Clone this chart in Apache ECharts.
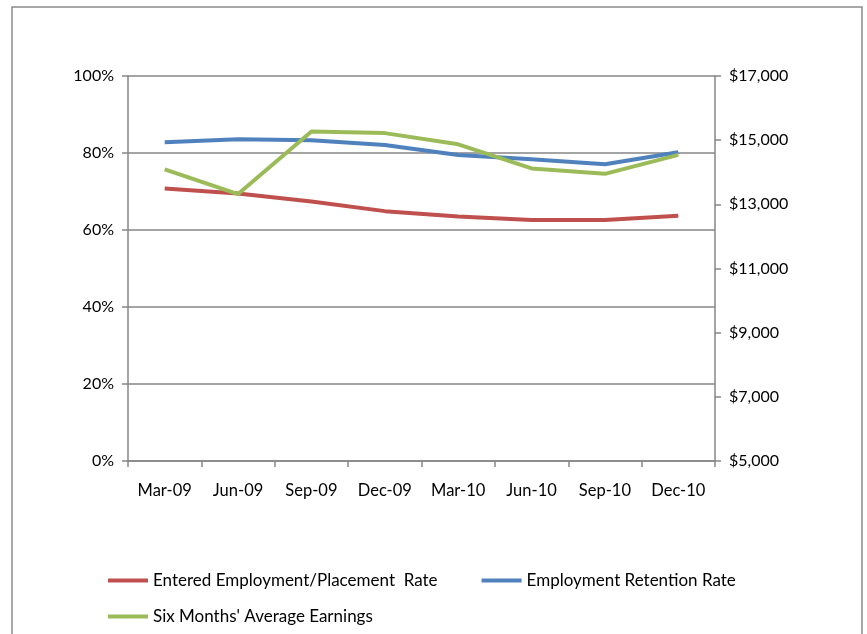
<!DOCTYPE html>
<html>
<head>
<meta charset="utf-8">
<script src="https://cdn.jsdelivr.net/npm/echarts@6/dist/echarts.min.js"></script>
<style>
  html, body { margin: 0; padding: 0; background: #fff; }
  #main { width: 867px; height: 634px; }
</style>
</head>
<body>
<div id="main"></div>
<script>
    var quarters = ['Mar-09', 'Jun-09', 'Sep-09', 'Dec-09', 'Mar-10', 'Jun-10', 'Sep-10', 'Dec-10'];
    // rates in %
    var enteredRate = [70.8, 69.5, 67.4, 64.9, 63.5, 62.6, 62.6, 63.7];
    var retentionRate = [82.8, 83.6, 83.3, 82.1, 79.5, 78.4, 77.1, 80.2];
    // dollars
    var avgEarnings = [14090, 13320, 15270, 15220, 14870, 14120, 13950, 14540];

    var names = ['Entered Employment/Placement  Rate', 'Employment Retention Rate', "Six Months' Average Earnings"];
    var axisGray = '#868686';
    var font = 'Lato, "Open Sans", sans-serif';

    var myChart = echarts.init(document.getElementById('main'));
    var option = {
      animation: false,
      color: ['#C0504D', '#4F81BD', '#9BBB59'],
      textStyle: { fontFamily: font },
      graphic: [{
        type: 'rect',
        shape: { x: 12, y: 7, width: 850, height: 640 },
        style: { fill: 'none', stroke: '#8c8c8c', lineWidth: 1.5 },
        silent: true
      }],
      grid: { left: 128, right: 152, top: 76, bottom: 173 },
      legend: [{
        left: 103, top: 567,
        itemWidth: 40, itemHeight: 4, itemGap: 44,
        icon: 'rect',
        textStyle: { fontSize: 17, color: '#000', fontFamily: font },
        data: [names[0], names[1]]
      }, {
        left: 103, top: 603,
        itemWidth: 40, itemHeight: 4,
        icon: 'rect',
        textStyle: { fontSize: 17, color: '#000', fontFamily: font },
        data: [names[2]]
      }],
      xAxis: {
        type: 'category',
        data: quarters,
        boundaryGap: true,
        axisLine: { lineStyle: { color: axisGray, width: 1.5 } },
        axisTick: { show: true, length: 6, lineStyle: { color: axisGray, width: 1.5 } },
        axisLabel: { color: '#000', fontSize: 16.5, margin: 21, fontFamily: font }
      },
      yAxis: [{
        type: 'value',
        min: 0, max: 100, interval: 20,
        position: 'left',
        axisLine: { show: true, lineStyle: { color: axisGray, width: 1.5 } },
        axisTick: { show: true, length: 6, lineStyle: { color: axisGray, width: 1.5 } },
        splitLine: { lineStyle: { color: axisGray, width: 1.5 } },
        axisLabel: { color: '#000', fontSize: 16, margin: 14, fontFamily: font, formatter: '{value}%' }
      }, {
        type: 'value',
        min: 5000, max: 17000, interval: 2000,
        position: 'right',
        axisLine: { show: true, lineStyle: { color: axisGray, width: 1.5 } },
        axisTick: { show: true, length: 6, lineStyle: { color: axisGray, width: 1.5 } },
        splitLine: { show: false },
        axisLabel: {
          color: '#000', fontSize: 16, margin: 14, fontFamily: font,
          formatter: function (v) { return '$' + v.toLocaleString('en-US'); }
        }
      }],
      series: [{
        name: names[0], type: 'line', yAxisIndex: 0, data: enteredRate,
        symbol: 'none', lineStyle: { width: 4 }
      }, {
        name: names[1], type: 'line', yAxisIndex: 0, data: retentionRate,
        symbol: 'none', lineStyle: { width: 4 }
      }, {
        name: names[2], type: 'line', yAxisIndex: 1, data: avgEarnings,
        symbol: 'none', lineStyle: { width: 4 }
      }]
    };
    myChart.setOption(option);
</script>
</body>
</html>
